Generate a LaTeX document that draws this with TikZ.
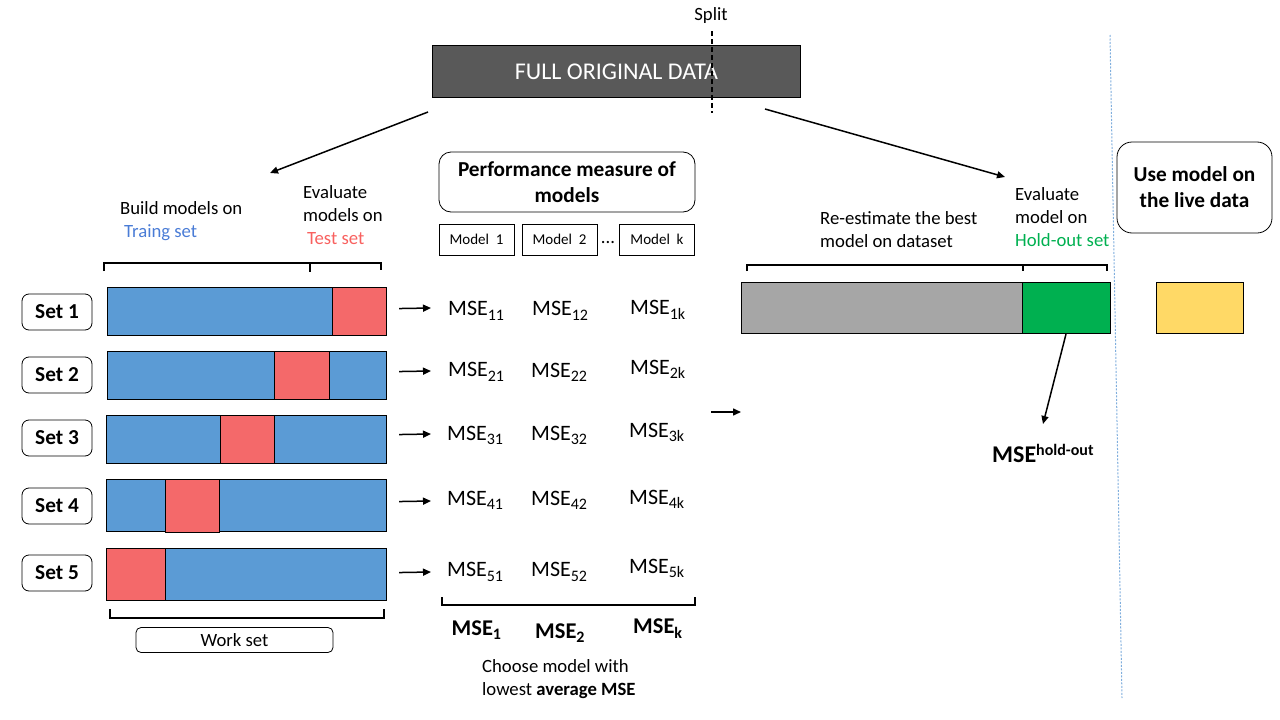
\documentclass[tikz,border=0pt]{standalone}
\usepackage{fontspec}
\setmainfont{Carlito}
\usetikzlibrary{arrows.meta}
\definecolor{barblue}{HTML}{5B9BD5}
\definecolor{barred}{HTML}{F4696A}
\definecolor{tblue}{HTML}{4A7CD6}
\definecolor{tred}{HTML}{F8615F}
\definecolor{hgreen}{HTML}{00B050}
\definecolor{lyellow}{HTML}{FFD966}
\definecolor{dgray}{HTML}{595959}
\definecolor{lgray}{HTML}{A6A6A6}
\definecolor{vblue}{HTML}{7FAEDD}
\newcommand\lsub[1]{\raisebox{-0.22em}{\fontsize{16}{16}\selectfont #1}}
\newcommand\bsub[1]{\raisebox{-0.22em}{\fontsize{16}{16}\selectfont\bfseries #1}}
\newcommand\bsup[1]{\raisebox{0.3em}{\fontsize{16}{16}\selectfont\bfseries #1}}
\begin{document}
\begin{tikzpicture}[x=1pt,y=-1pt,
  body/.style={font=\fontsize{18.7}{23}\selectfont, inner sep=0pt, align=left},
  msetext/.style={font=\fontsize{22}{24}\selectfont, inner sep=0pt, anchor=base west},
  msebold/.style={font=\fontsize{22.5}{24}\selectfont\bfseries, inner sep=0pt, anchor=base west},
  segment/.style={draw=black, line width=1.1pt, inner sep=0pt, anchor=north west},
  setbox/.style={draw, rounded corners=7pt, line width=0.8pt, minimum width=70pt, minimum height=36pt, inner sep=0pt, font=\fontsize{21.3}{24}\selectfont\bfseries},
  modelbox/.style={draw, line width=0.8pt, minimum width=75pt, minimum height=31pt, inner sep=0pt, font=\fontsize{15}{18}\selectfont},
  brk/.style={line width=1.5pt},
  arr/.style={line width=1.5pt, -{Triangle[length=8pt,width=7pt]}}
]
\useasboundingbox (0,0) rectangle (1280,720);

% ---------- top ----------
\node[fill=dgray, draw=black, line width=1pt, minimum width=368pt, minimum height=52pt, inner sep=0pt,
      anchor=north west, text=white, font=\fontsize{24}{26}\selectfont] (full) at (432,45) {FULL ORIGINAL DATA};
\coordinate (splitT) at (711.5,31);
\coordinate (splitB) at (711.5,113);
\draw[line width=2pt, dash pattern=on 5pt off 3pt] (splitT) -- (splitB);
\node[body] (split) at (711,16) {Split};

\coordinate (leftTip) at (270,173);
\coordinate (rightTip) at (1005,177);
\draw[arr] ([shift={(-4,14)}]full.south west) -- (leftTip);
\draw[arr] ([shift={(-36,11)}]full.south east) -- (rightTip);

% vertical separator
\coordinate (sepT) at (1110,35);
\coordinate (sepB) at (1122,698);
\draw[vblue, line width=1pt, dash pattern=on 2pt off 1.5pt] (sepT) -- (sepB);

% ---------- left labels ----------
\node[body, anchor=west] (build) at (120,221) {Build models on\\\hspace*{4pt}\textcolor{tblue}{Traing set}};
\node[body, anchor=west] (evalL) at (303,215) {Evaluate\\models on\\\hspace*{4pt}\textcolor{tred}{Test set}};

% top bracket
\coordinate (tb1) at (104,271);
\coordinate (tb2) at (104,263);
\coordinate (tb3) at (310,263);
\coordinate (tb4) at (310,272);
\coordinate (tb5) at (381,263);
\coordinate (tb6) at (381,270);
\draw[brk] (tb1) -- (tb2) -- (tb3) -- (tb5) -- (tb6);
\draw[brk] (tb3) -- (tb4);

% ---------- sets ----------
\node[setbox] (s1) at (57,312) {Set 1};
\node[setbox] (s2) at (57,375) {Set 2};
\node[setbox] (s3) at (57,438) {Set 3};
\node[setbox] (s4) at (57,506) {Set 4};
\node[setbox] (s5) at (57,573) {Set 5};

\node[segment, fill=barblue, minimum width=279pt, minimum height=48pt] (b1) at (107,287) {};
\node[segment, fill=barred, minimum width=54pt, minimum height=48pt] (r1) at (332,287) {};
\node[segment, fill=barblue, minimum width=279pt, minimum height=48pt] (b2) at (107,351) {};
\node[segment, fill=barred, minimum width=55pt, minimum height=48pt] (r2) at (274,351) {};
\node[segment, fill=barblue, minimum width=280pt, minimum height=48pt] (b3) at (106,415) {};
\node[segment, fill=barred, minimum width=54pt, minimum height=48pt] (r3) at (220,415) {};
\node[segment, fill=barblue, minimum width=280pt, minimum height=52pt] (b4) at (106,479) {};
\node[segment, fill=barred, minimum width=54pt, minimum height=53pt] (r4) at (165,479) {};
\node[segment, fill=barblue, minimum width=280pt, minimum height=52pt] (b5) at (106,548) {};
\node[segment, fill=barred, minimum width=59pt, minimum height=52pt] (r5) at (106,548) {};

% bottom bracket + work set
\coordinate (bb1) at (110,609);
\coordinate (bb2) at (110,618);
\coordinate (bb3) at (384,618);
\coordinate (bb4) at (384,609);
\draw[brk] (bb1) -- (bb2) -- (bb3) -- (bb4);
\node[draw, rounded corners=5pt, line width=0.8pt, minimum width=197pt, minimum height=25pt, inner sep=0pt,
      font=\fontsize{18.7}{20}\selectfont] (work) at (234.5,640) {Work set};

% ---------- performance ----------
\node[draw, rounded corners=12pt, line width=0.8pt, minimum width=256pt, minimum height=60pt, inner sep=0pt,
      align=center, font=\fontsize{21.3}{26}\selectfont\bfseries] (perf) at (567,182) {Performance measure of\\models};
\node[modelbox] (mod1) at (476.5,239.5) {Model\ \ 1};
\node[modelbox] (mod2) at (559.5,239.5) {Model\ \ 2};
\node[body] (dots) at (608,243) {...};
\node[modelbox] (modk) at (657,239.5) {Model\ \ k};

% MSE grid
\node[msetext] (m11) at (448,315.5) {MSE\lsub{11}};
\node[msetext] (m12) at (532,315.5) {MSE\lsub{12}};
\node[msetext] (m1k) at (630,314.5) {MSE\lsub{1k}};
\node[msetext] (m21) at (448,376.5) {MSE\lsub{21}};
\node[msetext] (m22) at (531,377) {MSE\lsub{22}};
\node[msetext] (m2k) at (630,374) {MSE\lsub{2k}};
\node[msetext] (m31) at (447,440) {MSE\lsub{31}};
\node[msetext] (m32) at (531,440) {MSE\lsub{32}};
\node[msetext] (m3k) at (629,437) {MSE\lsub{3k}};
\node[msetext] (m41) at (447,505) {MSE\lsub{41}};
\node[msetext] (m42) at (531,505) {MSE\lsub{42}};
\node[msetext] (m4k) at (629,504) {MSE\lsub{4k}};
\node[msetext] (m51) at (447,576.5) {MSE\lsub{51}};
\node[msetext] (m52) at (531,576.5) {MSE\lsub{52}};
\node[msetext] (m5k) at (629,573) {MSE\lsub{5k}};

% arrows set -> MSE
\draw[arr] ([xshift=12pt,yshift=3pt]b1.east) -- ([xshift=-17pt]m11.west |- 0,308);
\draw[arr] ([xshift=12pt,yshift=4pt]b2.east) -- ([xshift=-17pt]m21.west |- 0,371);
\draw[arr] ([xshift=12pt,yshift=5pt]b3.east) -- ([xshift=-16pt]m31.west |- 0,434);
\draw[arr] ([xshift=12pt,yshift=4pt]b4.east) -- ([xshift=-16pt]m41.west |- 0,501);
\draw[arr] ([xshift=12pt,yshift=2pt]b5.east) -- ([xshift=-16pt]m51.west |- 0,572);

% MSE bracket
\coordinate (mb1) at (442,597);
\coordinate (mb2) at (442,605);
\coordinate (mb3) at (695,605);
\coordinate (mb4) at (695,597);
\draw[brk] (mb1) -- (mb2) -- (mb3) -- (mb4);

\node[msebold] (mse1) at (451.5,635) {MSE\bsub{1}};
\node[msebold] (mse2) at (535,638) {MSE\bsub{2}};
\node[msebold] (msek) at (633,633.5) {MSE\bsub{k}};

\node[body, anchor=west] (choose) at (482,679) {Choose model with\\lowest \textbf{average MSE}};

% middle arrow
\coordinate (midS) at (711,412);
\coordinate (midE) at (741,412);
\draw[arr] (midS) -- (midE);

% ---------- right side ----------
\node[body, anchor=west] (reest) at (820,229.5) {Re-estimate the best\\model on dataset};
\node[body, anchor=west] (evalR) at (1015,217.5) {Evaluate\\model on\\\textcolor{hgreen}{Hold-out set}};

\coordinate (rb1) at (747,271);
\coordinate (rb2) at (747,265);
\coordinate (rb3) at (1023,265);
\coordinate (rb4) at (1023,271);
\coordinate (rb5) at (1107,265);
\coordinate (rb6) at (1107,271);
\draw[brk] (rb1) -- (rb2) -- (rb3) -- (rb5) -- (rb6);
\draw[brk] (rb3) -- (rb4);

\node[segment, fill=lgray, minimum width=281pt, minimum height=51pt] (grayb) at (741,282) {};
\node[segment, fill=hgreen, minimum width=88pt, minimum height=51pt] (greenb) at (1022,282) {};

\node[font=\fontsize{24}{26}\selectfont\bfseries, inner sep=0pt, anchor=base west] (msehold) at (992,462.5) {MSE\bsup{hold-out}};
\coordinate (holdTip) at (1043,424);
\draw[arr] (greenb.south -| 1066,0) -- (holdTip);

\node[draw, rounded corners=15pt, line width=0.8pt, minimum width=155pt, minimum height=91pt, inner sep=0pt,
      align=center, font=\fontsize{21.3}{26}\selectfont\bfseries] (live) at (1194.5,187.5) {Use model on\\the live data};
\node[segment, fill=lyellow, minimum width=87pt, minimum height=51pt] (yellowb) at (1156,282) {};

\end{tikzpicture}
\end{document}
